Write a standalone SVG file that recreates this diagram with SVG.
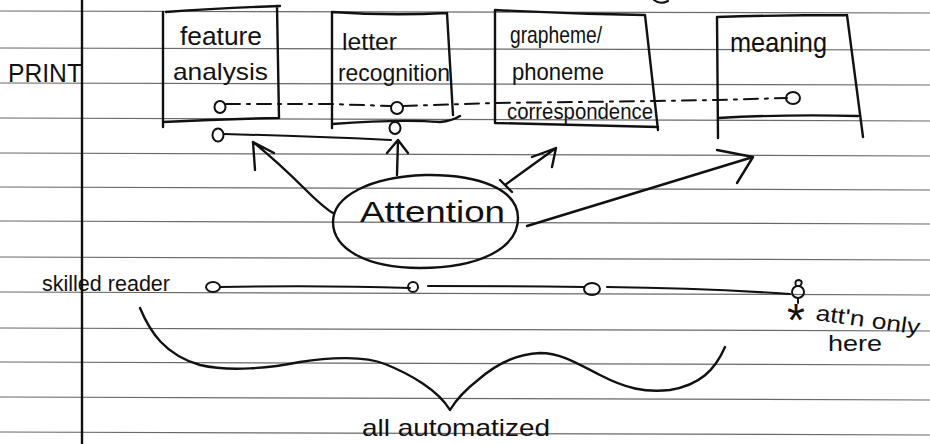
<svg xmlns="http://www.w3.org/2000/svg" width="930" height="444" viewBox="0 0 930 444">
<style>
.rule{stroke:#6a6a6a;stroke-width:1.2;fill:none}
.ink{stroke:#111;stroke-width:2.4;fill:none;stroke-linecap:round;stroke-linejoin:round}
.thin{stroke:#111;stroke-width:2;fill:none;stroke-linecap:round;stroke-linejoin:round}
.hand{font-family:"Liberation Sans","DejaVu Sans",sans-serif;fill:#111}
</style>
<rect width="930" height="444" fill="#fff"/>
<g id="paper">
<path class="rule" d="M0,11 L930,13 M0,48 L930,50 M0,83 L930,85 M0,118 L930,121 M0,153 L930,156 M0,187 L930,190 M0,221 L930,224 M0,257 L930,260 M0,292 L930,295 M0,328 L930,331 M0,362 L930,365 M0,397 L930,400 M0,432 L930,435"/>
<path class="ink" stroke-width="2" d="M82,0 L82,444"/>
<path class="thin" d="M654,0 Q660,5 668,1"/>
</g>
<g id="label-print"><text class="hand" x="8" y="82" font-size="26" textLength="74" lengthAdjust="spacingAndGlyphs">PRINT</text></g>
<g id="box-feature">
<path class="ink" d="M163,12 L163,127 M166,12 Q220,8 280,6 M277,6 L279,118 M163,122 Q220,119 279,118"/>
<text class="hand" x="180" y="45" font-size="26" textLength="82" lengthAdjust="spacingAndGlyphs">feature</text>
<text class="hand" x="173" y="80" font-size="24" textLength="95" lengthAdjust="spacingAndGlyphs">analysis</text>
<ellipse class="thin" cx="220" cy="107" rx="5.5" ry="6"/>
<ellipse class="thin" cx="218" cy="135" rx="5.5" ry="6.5"/>
</g>
<g id="box-letter">
<path class="ink" d="M332,12 L332,128 M332,12 Q390,16 447,13 M447,13 L453,115 M332,124 Q400,119 440,122 Q452,121 460,116"/>
<text class="hand" x="342" y="50" font-size="24" textLength="55" lengthAdjust="spacingAndGlyphs">letter</text>
<text class="hand" x="338" y="81" font-size="24" textLength="112" lengthAdjust="spacingAndGlyphs">recognition</text>
<ellipse class="thin" cx="397" cy="108" rx="6" ry="6"/>
<ellipse class="thin" cx="395" cy="128" rx="5.5" ry="6"/>
</g>
<g id="box-grapheme">
<path class="ink" d="M495,10 L495,123 M495,10 Q570,14 645,15 M645,15 L658,130 M495,123 Q580,125 658,127"/>
<text class="hand" x="510" y="43" font-size="24" textLength="92" lengthAdjust="spacingAndGlyphs">grapheme/</text>
<text class="hand" x="512" y="80" font-size="24" textLength="92" lengthAdjust="spacingAndGlyphs">phoneme</text>
<text class="hand" x="507" y="119" font-size="22" textLength="146" lengthAdjust="spacingAndGlyphs">correspondence</text>
</g>
<g id="box-meaning">
<path class="ink" d="M717,17 L718,138 M717,17 Q780,15 847,15 M847,15 L863,137 M718,118 Q790,114 858,116"/>
<text class="hand" x="730" y="52" font-size="28" textLength="97" lengthAdjust="spacingAndGlyphs">meaning</text>
<ellipse class="thin" cx="793" cy="98" rx="7" ry="6"/>
</g>
<g id="attention">
<path class="ink" d="M333,222 C333,196 370,177 425,175 C480,174 518,190 518,218 C518,248 480,268 420,268 C365,268 333,248 333,222 Z"/>
<text class="hand" x="360" y="222" font-size="30" textLength="145" lengthAdjust="spacingAndGlyphs">Attention</text>
</g>
<g id="skilled-reader">
<text class="hand" x="42" y="291" font-size="22" textLength="128" lengthAdjust="spacingAndGlyphs">skilled reader</text>
<ellipse class="thin" cx="213" cy="287" rx="7" ry="5"/>
<ellipse class="thin" cx="413" cy="287" rx="5" ry="5"/>
<ellipse class="thin" cx="592" cy="289" rx="8" ry="6"/>
<path class="thin" d="M798,292 m-6,0 a6,6 0 1 0 12,0 a6,6 0 1 0 -12,0 M796,286 q-2,-6 3,-6 q5,1 1,6"/>
</g>
<g id="note">
<text class="hand" x="787" y="336" font-size="46">*</text>
<text class="hand" x="815" y="320" font-size="22" textLength="105" lengthAdjust="spacingAndGlyphs" transform="rotate(8 815 320)">att'n only</text>
<text class="hand" x="828" y="351" font-size="22" textLength="54" lengthAdjust="spacingAndGlyphs">here</text>
</g>
<g id="label-automatized">
<text class="hand" x="362" y="436" font-size="24" textLength="188" lengthAdjust="spacingAndGlyphs">all automatized</text>
</g>
<g id="connectors">
<path class="thin" stroke-dasharray="14 7 3 7" d="M226,104 L330,104 L391,106 M403,106 L495,103 L657,101 L717,100 L787,98"/>
<path class="thin" d="M224,134 Q300,136 391,140"/>
<path class="ink" d="M333,213 C315,203 300,180 253,142 M255,170 L253,142 L274,153"/>
<path class="ink" d="M397,175 L398,140 M387,153 L398,140 L408,153"/>
<path class="ink" d="M505,185 L556,148 M532,157 L556,148 L552,167 M500,180 L512,192"/>
<path class="ink" d="M527,226 L753,157 M717,150 L753,157 L737,183"/>
<path class="thin" d="M220,287 Q320,285 410,288 M428,286 Q500,286 584,287 M607,287 Q700,288 790,294"/>
<path class="ink" d="M140,308 C150,332 165,355 200,365 C230,372 270,368 300,362 C330,357 365,356 385,364 C410,374 438,390 450,410 C456,400 465,390 478,380 C495,365 515,354 540,353 C560,353 575,362 600,375 C625,388 645,393 670,390 C700,385 715,370 725,347"/>
<path class="thin" d="M798,298 L798,303"/>
</g>
</svg>
